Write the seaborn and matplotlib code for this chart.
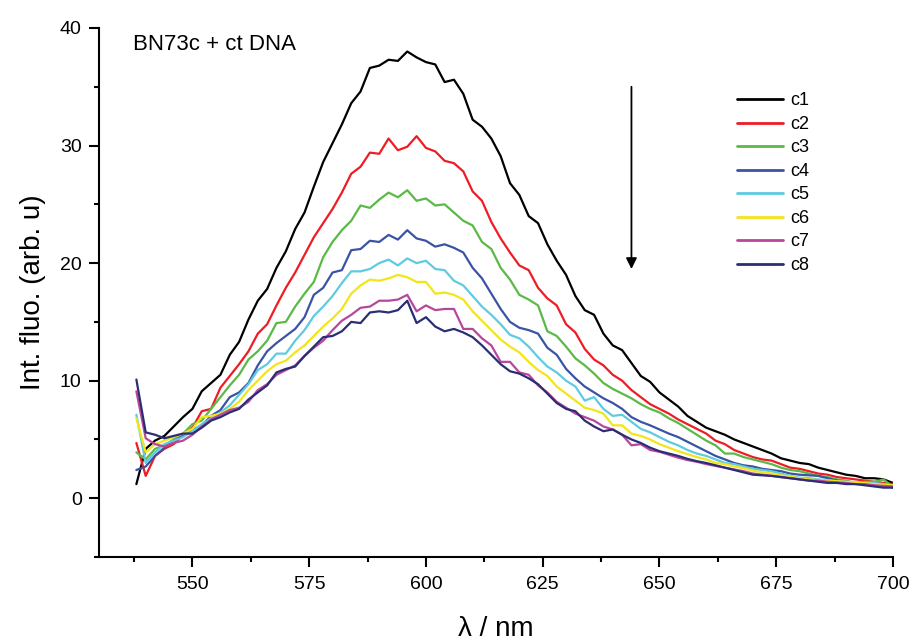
import numpy as np
import pandas as pd
import matplotlib
matplotlib.use("Agg")
import matplotlib.pyplot as plt
from matplotlib.ticker import MultipleLocator
import seaborn as sns

# ---------------- data ----------------
wavelength = list(range(538, 701, 2))

c1 = [1.2, 4.2, 4.9, 5.3, 6.1, 6.9, 7.6, 9.1, 9.8, 10.5, 12.2, 13.3, 15.2, 16.8, 17.8, 19.6,
      21.0, 22.9, 24.3, 26.5, 28.6, 30.2, 31.8, 33.6, 34.6, 36.6, 36.8, 37.3, 37.2, 38.0, 37.5,
      37.1, 36.9, 35.4, 35.6, 34.4, 32.2, 31.6, 30.6, 29.1, 26.8, 25.8, 24.0, 23.4, 21.6, 20.2,
      19.0, 17.2, 16.0, 15.6, 14.0, 13.0, 12.6, 11.5, 10.4, 9.9, 9.0, 8.4, 7.8, 7.0, 6.5, 6.0,
      5.7, 5.4, 5.0, 4.7, 4.4, 4.1, 3.8, 3.4, 3.2, 3.0, 2.9, 2.6, 2.4, 2.2, 2.0, 1.9, 1.7, 1.7,
      1.6, 1.3]
c2 = [4.7, 1.9, 3.6, 4.2, 4.6, 5.4, 6.0, 7.4, 7.6, 9.4, 10.4, 11.4, 12.5, 14.0, 14.8, 16.4,
      17.9, 19.2, 20.7, 22.2, 23.4, 24.6, 26.0, 27.6, 28.2, 29.4, 29.3, 30.6, 29.6, 29.9, 30.8,
      29.8, 29.5, 28.7, 28.5, 27.8, 26.1, 25.3, 23.5, 22.1, 20.9, 19.8, 19.4, 17.9, 17.0, 16.4,
      14.8, 14.1, 12.7, 11.8, 11.3, 10.5, 10.0, 9.2, 8.6, 8.0, 7.6, 7.2, 6.7, 6.3, 5.9, 5.5,
      4.9, 4.6, 4.1, 3.8, 3.5, 3.3, 3.2, 2.9, 2.6, 2.5, 2.3, 2.1, 2.0, 1.8, 1.7, 1.6, 1.5, 1.4,
      1.3, 1.2]
c3 = [3.9, 3.3, 4.2, 4.5, 5.0, 5.5, 6.3, 6.6, 7.6, 8.6, 9.6, 10.5, 11.8, 12.5, 13.4, 14.9,
      15.0, 16.3, 17.4, 18.4, 20.5, 21.8, 22.8, 23.6, 24.9, 24.7, 25.4, 26.0, 25.6, 26.2, 25.3,
      25.5, 24.9, 25.0, 24.3, 23.6, 23.2, 21.8, 21.2, 19.6, 18.6, 17.3, 16.9, 16.4, 14.2, 13.8,
      12.9, 11.9, 11.3, 10.6, 9.8, 9.3, 8.9, 8.5, 8.0, 7.6, 7.3, 6.8, 6.4, 5.9, 5.4, 4.9,
      4.5, 3.8, 3.8, 3.5, 3.3, 3.1, 2.9, 2.6, 2.4, 2.3, 2.1, 1.9, 1.8, 1.6, 1.5, 1.3, 1.4, 1.4,
      1.6, 0.9]
c4 = [2.4, 2.7, 3.6, 4.3, 4.9, 5.3, 5.8, 6.2, 7.0, 7.5, 8.6, 9.0, 9.8, 11.3, 12.5, 13.2,
      13.8, 14.4, 15.4, 17.3, 17.9, 19.2, 19.4, 21.1, 21.2, 21.9, 21.8, 22.4, 22.0, 22.8, 22.1,
      21.9, 21.4, 21.6, 21.3, 20.9, 19.6, 18.7, 17.4, 16.1, 15.0, 14.5, 14.3, 14.0, 12.8, 12.2,
      11.0, 10.2, 9.5, 9.0, 8.5, 8.1, 7.6, 6.9, 6.5, 6.2, 5.85, 5.5, 5.2, 4.8, 4.4, 4.0,
      3.6, 3.3, 3.0, 2.8, 2.7, 2.5, 2.4, 2.3, 2.1, 2.0, 1.95, 1.9, 1.7, 1.5, 1.4, 1.3, 1.3, 1.2,
      1.1, 0.9]
c5 = [7.1, 3.0, 3.9, 4.6, 4.9, 5.2, 5.7, 6.3, 6.8, 7.3, 7.9, 8.8, 9.7, 10.9, 11.4, 12.3,
      12.3, 13.4, 14.3, 15.5, 16.3, 17.2, 18.3, 19.3, 19.3, 19.5, 20.0, 20.3, 19.8, 20.4, 20.0,
      20.2, 19.5, 19.4, 18.5, 18.1, 17.2, 16.3, 15.6, 14.8, 13.9, 13.6, 12.9, 12.0, 11.2, 10.7,
      10.0, 9.5, 8.3, 8.6, 7.6, 7.0, 7.1, 6.5, 5.9, 5.6, 5.2, 4.8, 4.5, 4.1, 3.8, 3.6,
      3.3, 3.0, 2.9, 2.7, 2.5, 2.4, 2.3, 2.1, 1.9, 1.75, 1.7, 1.6, 1.55, 1.45, 1.4, 1.3, 1.3, 1.3,
      1.2, 1.1]
c6 = [6.8, 3.9, 4.6, 4.9, 5.2, 5.5, 5.9, 6.9, 7.0, 7.2, 7.6, 8.2, 9.2, 10.0, 10.8, 11.4,
      11.7, 12.4, 13.0, 13.8, 14.6, 15.3, 16.1, 17.4, 18.1, 18.6, 18.5, 18.7, 19.0, 18.8, 18.4,
      18.4, 17.4, 17.5, 17.3, 16.9, 15.9, 15.1, 14.3, 13.5, 12.9, 12.4, 11.6, 10.9, 10.4, 9.5,
      8.9, 8.3, 7.7, 7.5, 7.2, 6.2, 6.2, 5.5, 5.3, 5.0, 4.6, 4.3, 4.0, 3.75, 3.5, 3.3,
      3.0, 2.9, 2.7, 2.55, 2.35, 2.2, 2.1, 1.95, 1.85, 1.7, 1.6, 1.55, 1.5, 1.45, 1.4, 1.35, 1.3, 1.2,
      1.15, 1.1]
c7 = [9.1, 5.1, 4.6, 4.4, 4.7, 4.9, 5.4, 6.1, 6.7, 7.1, 7.5, 7.7, 8.2, 9.2, 9.7, 10.5,
      10.9, 11.3, 12.1, 12.8, 13.4, 14.3, 15.1, 15.6, 16.2, 16.3, 16.8, 16.8, 16.9, 17.3, 15.9,
      16.4, 16.0, 16.1, 16.1, 14.4, 14.4, 13.6, 13.0, 11.6, 11.6, 10.7, 10.5, 9.6, 9.0, 8.2,
      7.7, 7.2, 6.9, 6.6, 6.1, 5.85, 5.4, 4.5, 4.6, 4.1, 3.95, 3.7, 3.45, 3.25, 3.1, 2.9,
      2.75, 2.6, 2.45, 2.3, 2.1, 2.0, 1.9, 1.8, 1.7, 1.6, 1.5, 1.5, 1.4, 1.35, 1.3, 1.2, 1.2, 1.1,
      1.05, 1.0]
c8 = [10.1, 5.6, 5.4, 5.1, 5.3, 5.5, 5.5, 6.0, 6.6, 6.9, 7.3, 7.6, 8.4, 9.0, 9.6, 10.7,
      11.0, 11.2, 12.1, 12.9, 13.7, 13.8, 14.2, 15.0, 14.9, 15.8, 15.9, 15.8, 16.0, 16.8, 14.9,
      15.4, 14.6, 14.2, 14.4, 14.1, 13.7, 13.0, 12.2, 11.4, 10.8, 10.6, 10.2, 9.7, 8.9, 8.1,
      7.6, 7.4, 6.6, 6.1, 5.7, 5.85, 5.4, 5.0, 4.7, 4.3, 4.0, 3.8, 3.6, 3.35, 3.15, 3.0,
      2.8, 2.6, 2.4, 2.2, 2.0, 1.95, 1.9, 1.8, 1.7, 1.6, 1.5, 1.4, 1.3, 1.3, 1.2, 1.2, 1.1, 1.0,
      0.9, 0.9]

series_names = ["c1", "c2", "c3", "c4", "c5", "c6", "c7", "c8"]
series_values = [c1, c2, c3, c4, c5, c6, c7, c8]
colors = ["#000000", "#ee1c25", "#5ab947", "#3a53a4", "#5ecbe0", "#f2e519", "#b8479c", "#2b2d75"]

x_ticks = [550, 575, 600, 625, 650, 675, 700]
y_ticks = [0, 10, 20, 30, 40]

frames = [pd.DataFrame({"wavelength": wavelength, "intensity": v, "series": n})
          for n, v in zip(series_names, series_values)]
df = pd.concat(frames, ignore_index=True)

# ---------------- style ----------------
sns.set_style("ticks")
plt.rcParams["font.family"] = ["Liberation Sans", "DejaVu Sans"]
plt.rcParams.update({
    "axes.linewidth": 1.5,
    "axes.edgecolor": "black",
    "axes.labelcolor": "black",
    "text.color": "black",
    "xtick.color": "black",
    "ytick.color": "black",
})

fig = plt.figure(figsize=(9.16, 6.43), dpi=100)
ax = fig.add_axes([99 / 916, 86 / 643, 794 / 916, 529 / 643])

sns.lineplot(data=df, x="wavelength", y="intensity", hue="series",
             palette=dict(zip(series_names, colors)), linewidth=1.6, ax=ax,
             estimator=None, sort=False)

ax.set_xlim(530, 700)
ax.set_ylim(-5, 40)
ax.set_xticks(x_ticks)
ax.set_yticks(y_ticks)
ax.xaxis.set_minor_locator(MultipleLocator(12.5))
ax.yaxis.set_minor_locator(MultipleLocator(5))
ax.tick_params(which="major", direction="out", length=7.5, width=1.5, labelsize=14, pad=5,
               color="black", labelcolor="black")
ax.tick_params(which="minor", direction="out", length=3.5, width=1.5, color="black")
ax.tick_params(axis="x", which="major", pad=6)

sns.despine(ax=ax)

ax.set_xlabel("λ / nm", fontsize=20, labelpad=17)
ax.set_ylabel("Int. fluo. (arb. u)", fontsize=20, labelpad=10)

ax.text(0.043, 0.968, "BN73c + ct DNA", transform=ax.transAxes, fontsize=16,
        ha="left", va="center")

ax.annotate("", xy=(644, 19.5), xytext=(644, 35),
            arrowprops=dict(arrowstyle="-|>", color="black", lw=1.3, mutation_scale=16,
                            shrinkA=0, shrinkB=0))

leg = ax.legend(loc="upper left", bbox_to_anchor=(0.795, 0.892), frameon=False,
                fontsize=13, handlelength=2.5, labelspacing=0.36, borderaxespad=0,
                handletextpad=0.4)
for line in leg.get_lines():
    line.set_linewidth(2.0)

fig.savefig("out.png", dpi=100)
